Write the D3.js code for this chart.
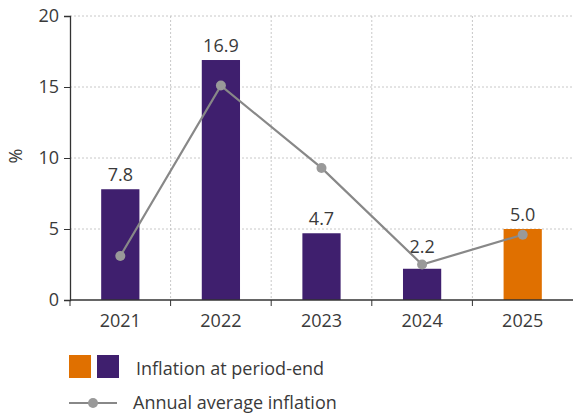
<!DOCTYPE html>
<html>
<head>
<meta charset="utf-8">
<script src="https://cdn.jsdelivr.net/npm/d3@7"></script>
<style>
  body { margin: 0; background: #fff; }
  svg text { font-family: "Open Sans", "Liberation Sans", Arial, sans-serif; font-weight: 400; fill: #3a3a3a; }
</style>
</head>
<body>
<svg id="chart" width="573" height="413"></svg>
<script>
// Inflation data
const years = ["2021", "2022", "2023", "2024", "2025"];
const periodEnd = [7.8, 16.9, 4.7, 2.2, 5.0];
const annualAverage = [3.1, 15.1, 9.3, 2.5, 4.6];
const forecast = [false, false, false, false, true];
const yTicks = [0, 5, 10, 15, 20];

const purple = "#3f1f6e", orange = "#e07000", lineGrey = "#888", dotGrey = "#999";
const FS = 18;

const svg = d3.select("#chart");
const margin = { left: 70, right: 0, top: 16, bottom: 113 };
const W = 573, H = 413;
const plotW = W - margin.left - margin.right;
const plotH = H - margin.top - margin.bottom;

const g = svg.append("g").attr("transform", `translate(${margin.left},${margin.top})`);

const x = d3.scaleBand().domain(years).range([0, plotW]).paddingInner(0.62).paddingOuter(0.31);
const xGrid = d3.scaleBand().domain(years).range([0, plotW]);
const y = d3.scaleLinear().domain([0, 20]).range([plotH, 0]);
const cx = d => x(d) + x.bandwidth() / 2;

// horizontal gridlines
g.selectAll(".hgrid").data(yTicks.filter(d => d > 0)).enter().append("line")
  .attr("x1", 0).attr("x2", plotW)
  .attr("y1", d => y(d)).attr("y2", d => y(d))
  .attr("stroke", "#c8c8c8").attr("stroke-dasharray", "2,2");

// vertical gridlines at category boundaries
g.selectAll(".vgrid").data(years.slice(1)).enter().append("line")
  .attr("x1", d => xGrid(d)).attr("x2", d => xGrid(d))
  .attr("y1", 0).attr("y2", plotH)
  .attr("stroke", "#c8c8c8").attr("stroke-dasharray", "2,2");

// bars
g.selectAll(".bar").data(years).enter().append("rect")
  .attr("x", d => x(d))
  .attr("width", x.bandwidth())
  .attr("y", (d, i) => y(periodEnd[i]))
  .attr("height", (d, i) => y(0) - y(periodEnd[i]))
  .attr("fill", (d, i) => forecast[i] ? orange : purple);

// bar value labels, lifted above the average-line marker when it sits near the bar top
function labelY(i) {
  const top = y(periodEnd[i]);
  const dot = y(annualAverage[i]);
  let ly = top - 8;
  if (dot > top - 20 && dot < top + 15) ly = Math.min(ly, dot - 12);
  return ly;
}
g.selectAll(".val").data(years).enter().append("text")
  .attr("x", cx)
  .attr("y", (d, i) => labelY(i))
  .attr("text-anchor", "middle")
  .attr("font-size", FS)
  .text((d, i) => periodEnd[i].toFixed(1));

// annual average line
const line = d3.line()
  .x((d, i) => cx(years[i]))
  .y(d => y(d));
g.append("path").datum(annualAverage)
  .attr("d", line).attr("fill", "none")
  .attr("stroke", lineGrey).attr("stroke-width", 2.2);
g.selectAll(".dot").data(annualAverage).enter().append("circle")
  .attr("cx", (d, i) => cx(years[i]))
  .attr("cy", d => y(d))
  .attr("r", 5).attr("fill", dotGrey);

// y axis
const yAxis = g.append("g").call(d3.axisLeft(y).tickValues(yTicks).tickSize(6).tickPadding(5));
yAxis.select(".domain").attr("stroke", "#333").attr("stroke-width", 1.3);
yAxis.selectAll(".tick line").attr("stroke", "#333");
yAxis.selectAll(".tick text").attr("font-size", FS).attr("fill", "#3a3a3a")
  .style("font-family", "'Open Sans', 'Liberation Sans', Arial, sans-serif")
  .style("font-weight", 400);

// x axis: baseline with ticks at category boundaries
const xAxisG = g.append("g").attr("transform", `translate(0,${plotH})`);
xAxisG.append("line").attr("x1", 0).attr("x2", plotW).attr("stroke", "#333").attr("stroke-width", 1.3);
xAxisG.selectAll(".xt").data(years.slice(1)).enter().append("line")
  .attr("x1", d => xGrid(d)).attr("x2", d => xGrid(d))
  .attr("y1", 0).attr("y2", 6).attr("stroke", "#333");
xAxisG.append("line").attr("x1", 0).attr("x2", 0).attr("y1", 0).attr("y2", 6).attr("stroke", "#333");
xAxisG.selectAll(".xl").data(years).enter().append("text")
  .attr("x", d => xGrid(d) + xGrid.bandwidth() / 2)
  .attr("y", 27)
  .attr("text-anchor", "middle")
  .attr("font-size", FS)
  .text(d => d);

// y axis title
svg.append("text")
  .attr("transform", `translate(22,${margin.top + y(10) - 2}) rotate(-90)`)
  .attr("text-anchor", "middle")
  .attr("font-size", FS)
  .text("%");

// legend
const leg = svg.append("g");
leg.append("rect").attr("x", 69).attr("y", 355).attr("width", 22).attr("height", 23).attr("fill", orange);
leg.append("rect").attr("x", 97).attr("y", 355).attr("width", 22).attr("height", 23).attr("fill", purple);
leg.append("text").attr("x", 136).attr("y", 375).attr("font-size", FS).text("Inflation at period-end");
leg.append("line").attr("x1", 69).attr("x2", 117).attr("y1", 403).attr("y2", 403)
  .attr("stroke", lineGrey).attr("stroke-width", 2.2);
leg.append("circle").attr("cx", 93).attr("cy", 403).attr("r", 5).attr("fill", dotGrey);
leg.append("text").attr("x", 133).attr("y", 409).attr("font-size", FS).text("Annual average inflation");
</script>
</body>
</html>
